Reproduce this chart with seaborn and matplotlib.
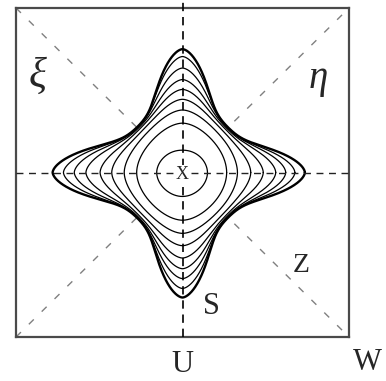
import numpy as np
import pandas as pd
import matplotlib
matplotlib.use("Agg")
import matplotlib.pyplot as plt
import seaborn as sns

# Nested iso-lines of a four-lobed pattern, outermost first.
# Tip radius of each line along the four axis directions (half-side of the square = 1).
tip_right = [0.735, 0.675, 0.620, 0.560, 0.485, 0.410, 0.330, 0.265, 0.150]
tip_top = [0.750, 0.705, 0.635, 0.565, 0.505, 0.445, 0.380, 0.300, 0.135]
tip_left = [0.780, 0.715, 0.650, 0.580, 0.495, 0.425, 0.350, 0.275, 0.155]
tip_bottom = [0.760, 0.705, 0.645, 0.585, 0.520, 0.445, 0.370, 0.290, 0.145]
# Radius of each line along the diagonals (the waist between lobes)
waist = [0.380, 0.376, 0.372, 0.366, 0.358, 0.340, 0.310, 0.255, 0.140]
# Angular half-width of the lobes, degrees
lobe_width = [18, 19, 20, 21, 22, 24, 27, 32, 42]

labels = {"xi": "ξ", "eta": "η", "z": "Z", "s": "S", "u": "U", "w": "W", "x": "X"}

sns.set_style("white")
plt.rcParams["font.family"] = ["Liberation Serif", "DejaVu Serif"]

theta = np.linspace(0, 2 * np.pi, 1441)
lobe_angles = np.radians([0, 90, 180, 270])


def line_xy(i):
    tips = [tip_right[i], tip_top[i], tip_left[i], tip_bottom[i]]
    sig = np.radians(lobe_width[i])
    r = np.full_like(theta, waist[i])
    for ang, tip in zip(lobe_angles, tips):
        d = np.abs((theta - ang + np.pi) % (2 * np.pi) - np.pi)
        r += (tip - waist[i]) * np.exp(-(d / sig) ** 1.66)
    return r * np.cos(theta), r * np.sin(theta)


rows = []
for i in range(len(waist)):
    x, y = line_xy(i)
    rows.append(pd.DataFrame({"x": x, "y": y, "level": i, "step": np.arange(len(x))}))
df = pd.concat(rows, ignore_index=True)

W, H = 386, 381
fig = plt.figure(figsize=(W / 100, H / 100), dpi=100)
ax = fig.add_axes([16 / W, (H - 337) / H, 333 / W, 329 / H])
ax.set_xlim(-1, 1)
ax.set_ylim(-1, 1)

# diagonal reference lines, hidden inside the pattern
ax.plot([-1, 1], [1, -1], color="#808080", lw=1.0, ls=(0, (5, 8)), zorder=1)
ax.plot([-1, 1], [-1, 1], color="#808080", lw=1.0, ls=(0, (5, 8)), zorder=1)

outer = df[df.level == 0]
ax.fill(outer.x, outer.y, color="white", zorder=2)

sns.lineplot(data=df[df.level > 0], x="x", y="y", units="level", estimator=None,
             sort=False, color="black", lw=0.9, ax=ax, zorder=3, legend=False)
sns.lineplot(data=outer, x="x", y="y", estimator=None, sort=False,
             color="black", lw=1.7, ax=ax, zorder=3, legend=False)

# axis reference lines
ax.plot([0, 0], [-1, 1.05], color="black", lw=1.2, ls=(0, (5, 3.5)), zorder=4, clip_on=False)
ax.plot([-1, 1], [0, 0], color="#222222", lw=1.0, ls=(0, (5, 4)), zorder=4)

for sp in ax.spines.values():
    sp.set_color("#4a4a4a")
    sp.set_linewidth(1.6)
ax.set_xticks([])
ax.set_yticks([])
ax.set_xlabel("")
ax.set_ylabel("")


def px(xp, yp):
    return (xp - 182.5) / 166.5, (172.5 - yp) / 164.5


def put(key, xp, yp, size, **kw):
    xd, yd = px(xp, yp)
    ax.text(xd, yd, labels[key], fontsize=size, ha="center", va="center",
            zorder=5, clip_on=False, **kw)


put("xi", 38, 77, 30, style="italic")
put("eta", 318, 78, 28, style="italic")
put("z", 301, 265, 20)
put("s", 211, 306, 22)
put("u", 182, 364, 22)
put("w", 367, 363, 22)
xd, yd = px(182, 174)
ax.text(xd, yd, labels["x"], fontsize=13, ha="center", va="center", zorder=5,
        bbox=dict(facecolor="white", edgecolor="none", pad=0.3))

fig.savefig("out.png", dpi=100)
